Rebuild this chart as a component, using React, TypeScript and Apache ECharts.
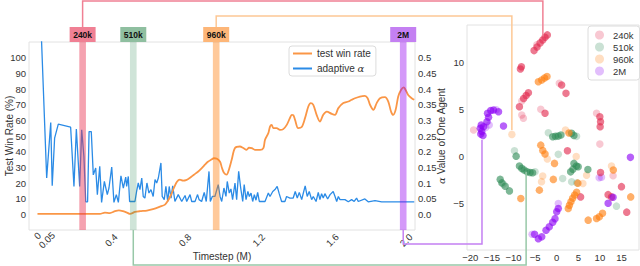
import React, { useEffect, useRef } from "react";
import * as echarts from "echarts";

// ---- left chart data: [timestep (M), value] ----
const winRatePoints: number[][] = [
  [0, 0.3], [0.339, 0.3], [0.366, 1.1], [0.393, 0.8], [0.421, 2.0], [0.442, 2.5], [0.464, 2.0], [0.486, 1.1],
  [0.502, 0.3], [0.529, 1.5], [0.556, 2.0], [0.594, 2.4], [0.627, 3.3], [0.665, 4.9], [0.692, 6.2], [0.708, 8.7],
  [0.725, 12.5], [0.741, 17], [0.757, 20.8], [0.773, 22.1], [0.79, 21.5], [0.806, 21.8], [0.828, 23.4], [0.849, 25.3],
  [0.871, 27.2], [0.893, 29.7], [0.909, 31.7], [0.925, 33.6], [0.942, 34.8], [0.958, 35.8], [0.974, 35.5], [0.991, 33.6],
  [1.001, 29.7], [1.012, 26.6], [1.027, 25.3], [1.039, 28.5], [1.054, 34.8], [1.072, 42.3], [1.099, 43.3], [1.117, 42.3],
  [1.135, 41.2], [1.148, 42.5], [1.163, 42.3], [1.18, 41.2], [1.208, 41.2], [1.226, 42.3], [1.235, 47.6], [1.253, 51.8],
  [1.262, 56], [1.271, 57.1], [1.28, 55], [1.298, 55], [1.316, 53.9], [1.334, 54.4], [1.353, 57.1], [1.37, 61.4],
  [1.38, 63.5], [1.389, 63.2], [1.398, 60.3], [1.415, 55], [1.434, 55.7], [1.452, 61.4], [1.47, 68.8], [1.483, 71],
  [1.497, 69.9], [1.515, 63.5], [1.533, 59.2], [1.551, 63.5], [1.57, 65.6], [1.597, 64.1], [1.615, 63.5], [1.633, 67.8],
  [1.66, 71], [1.687, 72], [1.705, 73.1], [1.723, 74.1], [1.75, 75.2], [1.777, 75.6], [1.792, 74.1], [1.805, 69.9],
  [1.823, 66.7], [1.841, 71], [1.859, 74.1], [1.886, 74.8], [1.904, 72], [1.919, 65.6], [1.931, 63.5], [1.944, 66.7],
  [1.958, 75.2], [1.973, 79.4], [1.988, 81.1], [1.998, 79.4], [2.012, 76.2], [2.031, 74.1], [2.045, 73.1],
];

const alphaPoints: number[][] = [
  [0, 0.9], [0.05, 0.116], [0.072, 0.293], [0.08, 0.091], [0.093, 0.243], [0.113, 0.288], [0.18, 0.278], [0.198, 0.089],
  [0.211, 0.272], [0.229, 0.089], [0.24, 0.27], [0.252, 0.185], [0.262, 0.04], [0.272, 0.04], [0.28, 0.264], [0.292, 0.264],
  [0.303, 0.126], [0.316, 0.148], [0.325, 0.063], [0.338, 0.153], [0.348, 0.038], [0.363, 0.105], [0.379, 0.063], [0.388, 0.084],
  [0.403, 0.151], [0.415, 0.038], [0.428, 0.063], [0.439, 0.038], [0.453, 0.123], [0.466, 0.084], [0.479, 0.119], [0.484, 0.089],
  [0.493, 0.121], [0.5, 0.041], [0.529, 0.041], [0.538, 0.073], [0.547, 0.1], [0.556, 0.079], [0.566, 0.116], [0.574, 0.057],
  [0.583, 0.052], [0.594, 0.1], [0.605, 0.068], [0.616, 0.079], [0.628, 0.057], [0.638, 0.111], [0.647, 0.1], [0.656, 0.116],
  [0.67, 0.164], [0.677, 0.057], [0.688, 0.047], [0.697, 0.089], [0.707, 0.041], [0.715, 0.089], [0.725, 0.052], [0.734, 0.091],
  [0.746, 0.041], [0.764, 0.063], [0.783, 0.041], [0.801, 0.06], [0.81, 0.041], [0.828, 0.063], [0.837, 0.041], [0.855, 0.041],
  [0.869, 0.063], [0.877, 0.047], [0.891, 0.041], [0.905, 0.07], [0.916, 0.041], [0.931, 0.137], [0.938, 0.041], [0.949, 0.057],
  [0.963, 0.057], [0.981, 0.095], [0.991, 0.057], [1.0, 0.041], [1.012, 0.084], [1.023, 0.057], [1.03, 0.105], [1.041, 0.068],
  [1.05, 0.081], [1.059, 0.047], [1.072, 0.1], [1.081, 0.047], [1.092, 0.137], [1.103, 0.084], [1.114, 0.041], [1.122, 0.095],
  [1.132, 0.047], [1.142, 0.073], [1.15, 0.057], [1.159, 0.068], [1.168, 0.041], [1.177, 0.063], [1.186, 0.045], [1.195, 0.07],
  [1.204, 0.041], [1.235, 0.041], [1.253, 0.068], [1.262, 0.057], [1.277, 0.073], [1.289, 0.079], [1.301, 0.089], [1.312, 0.066],
  [1.325, 0.041], [1.343, 0.041], [1.352, 0.057], [1.37, 0.052], [1.388, 0.052], [1.399, 0.073], [1.41, 0.052], [1.421, 0.07],
  [1.434, 0.047], [1.443, 0.068], [1.453, 0.091], [1.464, 0.057], [1.475, 0.073], [1.488, 0.047], [1.497, 0.057], [1.512, 0.041],
  [1.524, 0.07], [1.533, 0.047], [1.542, 0.066], [1.551, 0.052], [1.56, 0.066], [1.575, 0.049], [1.588, 0.063], [1.605, 0.073],
  [1.615, 0.057], [1.624, 0.041], [1.633, 0.057], [1.642, 0.047], [1.669, 0.047], [1.687, 0.04], [1.705, 0.047], [1.719, 0.041],
  [1.732, 0.052], [1.741, 0.041], [1.777, 0.049], [1.795, 0.04], [1.832, 0.044], [1.868, 0.04], [2.045, 0.04],
];

// tick values/labels on the time axis (the leading blank entry only absorbs ECharts' min-label overlap check)
const xTickValues = [-0.04, 0, 0.05, 0.4, 0.8, 1.2, 1.6, 2.0];
const xTickLabels = [" ", "0", "0.05", "0.4", "0.8", "1.2", "1.6", "2.0"];

// ---- checkpoints ----
const checkpointNames = ["240k", "510k", "960k", "2M"];
const checkpointT = [0.245, 0.52, 0.97, 1.985];
const checkpointAnchor: number[][] = [[-3.2, 12.9], [-7.08, -1.6], [-10.38, 2.85], [-17.3, 1.8]];

// ---- right chart: alpha embeddings per checkpoint ----
const pts240kSolid: number[][] = [
  [-5.24, 11.28], [-4.55, 11.67], [-3.85, 12.1], [-3.23, 12.41], [-2.7, 12.7], [-2.17, 12.95],
  [-8.17, 9.57], [-8.4, 9.33], [-6.55, 6.81], [-7.08, 6.51], [-7.66, 6.19], [-8.63, 5.32],
  [-2.7, 4.62], [1.15, 7.63], [2.15, 6.74], [9.99, 4.26], [10.15, 3.72], [10.06, 3.19],
  [2.49, 0.64], [10.15, -1.66], [15.0, -3.17], [5.54, -4.26], [11.9, -4.02], [12.69, -4.26], [16.22, -5.88],
];
const pts240kFaint: number[][] = [
  [-8.08, 5.93], [-8.08, 4.44], [-7.71, 4.09], [-3.69, 5.04], [-19.24, 2.84], [0.6, 7.81],
  [9.23, 4.62], [9.99, 1.35], [13.06, -2.02], [-4.6, 11.9],
];
const pts510kSolid: number[][] = [
  [-0.92, 2.13], [-0.28, 2.17], [0.37, 2.2], [0.99, 2.31], [3.46, 2.49], [3.99, 2.26],
  [-9.39, 0.07], [-8.63, -0.99], [-8.08, -1.23], [-7.54, -1.41], [-6.85, -1.6], [-6.16, -1.66], [-5.58, -1.7],
  [-13.08, -2.4], [-12.69, -2.77], [-11.93, -3.12], [-10.94, -3.62],
  [3.99, -0.7], [4.57, -0.99], [4.98, -1.06], [3.23, -1.6], [3.76, -1.31], [7.22, -1.34],
];
const pts510kFaint: number[][] = [
  [-1.94, 2.55], [4.61, 2.17], [-9.78, 0.64], [-5.01, -1.6], [0.37, 0.26], [1.38, -2.3],
  [3.46, -2.66], [4.68, -2.77], [13.84, -5.24], [-12.4, -2.9],
];
const pts960kSolid: number[][] = [
  [-4.25, 7.98], [-3.46, 8.16], [-2.81, 8.37], [-2.24, 8.53], [-3.69, 1.24], [-3.23, 0.66], [-2.7, 0.29],
  [-0.51, -0.7], [-4.01, -3.54], [-8.31, -4.43], [2.84, 2.52], [-0.78, -2.4],
  [4.91, -2.8], [4.61, -3.76], [4.15, -4.07], [3.69, -4.39], [3.3, -4.77], [2.95, -5.14], [2.68, -5.49],
  [7.29, -6.73], [9.23, -6.55], [9.88, -6.36], [10.61, -5.99], [13.11, -1.41], [17.14, -4.26],
];
const pts960kFaint: number[][] = [
  [-10.38, 2.38], [-2.17, -0.24], [-3.23, -2.05], [-3.51, -2.64], [2.03, 2.84], [4.52, 0.02],
  [6.92, -1.95], [6.07, -2.83], [12.69, -0.99],
];
const pts2MSolid: number[][] = [
  [-17.7, 3.02], [-17.35, 2.68], [-17.07, 2.26], [-17.58, 2.41], [-17.47, 3.37], [-16.94, 3.19], [-16.15, 3.72],
  [-15.78, 4.19], [-16.01, 4.62], [-15.27, 4.91], [-14.63, 4.97], [-13.47, 4.79], [-12.32, 3.27],
  [17.07, -0.06], [13.06, -4.29], [11.91, -4.93],
  [0.37, -5.49], [0.0, -5.83], [-0.39, -6.57], [-0.92, -6.95], [-1.71, -7.43], [-2.47, -7.8], [-3.46, -8.49],
  [-4.25, -8.7], [-5.12, -8.22],
];
const pts2MFaint: number[][] = [
  [-16.43, 3.11], [-15.62, 3.37], [9.83, -2.23], [10.38, -2.16], [0.37, -4.96], [-5.7, -8.22], [-14.0, 5.0],
];

const scatterXTicks = [-20, -15, -10, -5, 0, 5, 10, 15];
const scatterYTicks = [-5, 0, 5, 10];

// ---- styles ----
const FONT = "Liberation Sans";
const labelColor = "#333";
const faintColors = ["rgba(226,40,77,0.32)", "rgba(46,139,87,0.32)", "rgba(255,127,14,0.32)", "rgba(140,0,245,0.32)"];
const solidColors = ["rgba(226,40,77,0.78)", "rgba(46,139,87,0.78)", "rgba(255,127,14,0.78)", "rgba(140,0,245,0.78)"];
const bandColors = ["rgba(232,48,79,0.45)", "rgba(46,139,87,0.23)", "rgba(255,127,14,0.42)", "rgba(148,0,240,0.4)"];
const boxColors = ["#f08094", "#8fbfa0", "#fdb678", "#c480f2"];
const connectorColors = ["#f08094", "#98c8a8", "#fdc895", "#c480f2"];
const connectorLevel = [1, 265, 16, 244];
const connectorFromTop = [true, false, true, false];

const fmtNum = (v: number) => {
  const a = Math.abs(v);
  const s = String(parseFloat(a.toFixed(2)));
  return v < 0 ? "\u2212" + s : s;
};

export default function App() {
  const ref = useRef<HTMLDivElement>(null);

  useEffect(() => {
    const el = ref.current;
    if (!el) return;
    const chart = echarts.init(el, null, { renderer: "svg" });

    const axisFont = { fontFamily: FONT, fontSize: 9.5, color: labelColor };
    const solidSets = [pts240kSolid, pts510kSolid, pts960kSolid, pts2MSolid];
    const faintSets = [pts240kFaint, pts510kFaint, pts960kFaint, pts2MFaint];

    const scatterSeries: any[] = [];
    checkpointNames.forEach((name, i) => {
      scatterSeries.push({
        name, type: "scatter", xAxisIndex: 1, yAxisIndex: 2, symbolSize: 7.5,
        itemStyle: { color: faintColors[i] }, data: faintSets[i],
      });
    });
    checkpointNames.forEach((name, i) => {
      scatterSeries.push({
        name, type: "scatter", xAxisIndex: 1, yAxisIndex: 2, symbolSize: 7.5,
        itemStyle: { color: solidColors[i] }, data: solidSets[i],
      });
    });

    const option: any = {
      animation: false,
      backgroundColor: "#fff",
      textStyle: { fontFamily: FONT },
      grid: [
        { left: 29, top: 42, width: 386, height: 188, show: true, borderColor: "#e2e2e2", borderWidth: 1, backgroundColor: "transparent", outerBoundsMode: "none" },
        { left: 467, top: 25, width: 172, height: 225, show: true, borderColor: "#e2e2e2", borderWidth: 1, backgroundColor: "transparent", outerBoundsMode: "none" },
      ],
      legend: [
        {
          data: ["test win rate", "adaptive α"],
          orient: "vertical", left: 289, top: 46,
          backgroundColor: "#fff", borderColor: "#dcdcdc", borderWidth: 1, borderRadius: 3,
          padding: [2, 5, 2, 4], itemGap: 4, itemWidth: 19, itemHeight: 2, icon: "rect",
          selectedMode: false,
          formatter: (n: string) => (n === "adaptive α" ? "adaptive {i|α}" : n),
          textStyle: {
            fontFamily: FONT, fontSize: 10, color: labelColor, lineHeight: 11,
            rich: { i: { fontStyle: "italic", fontFamily: "DejaVu Serif", fontSize: 10, color: labelColor } },
          },
        },
        {
          data: checkpointNames.map((n, i) => ({ name: n, itemStyle: { color: faintColors[i] } })),
          orient: "vertical", left: 588, top: 26,
          backgroundColor: "#fff", borderColor: "#dcdcdc", borderWidth: 1, borderRadius: 3,
          padding: [4, 6, 4, 7], itemGap: 2, itemWidth: 9, itemHeight: 9, icon: "circle",
          selectedMode: false,
          textStyle: { fontFamily: FONT, fontSize: 9.5, color: labelColor, lineHeight: 10, padding: [0, 0, 0, 4] },
        },
      ],
      xAxis: [
        {
          gridIndex: 0, type: "value", min: -0.046, max: 2.049,
          axisLine: { show: false }, axisTick: { show: false }, splitLine: { show: false },
          axisLabel: {
            ...axisFont, customValues: xTickValues, rotate: 45, align: "center", verticalAlign: "middle", margin: 10,
            hideOverlap: false,
            rich: { s: { ...axisFont, padding: [0, 0, 6, 6] } },
            formatter: (v: number) => {
              const i = xTickValues.findIndex((t) => Math.abs(t - v) < 1e-6);
              if (i < 0) return "";
              const s = xTickLabels[i];
              return s.trim().length === 1 ? "{s|" + s + "}" : s;
            },
          },
          name: "Timestep (M)", nameLocation: "middle", nameGap: 21, nameMoveOverlap: false,
          nameTextStyle: { ...axisFont, fontSize: 10 },
        },
        {
          gridIndex: 1, type: "value", min: -20.77, max: 19.06,
          axisLine: { show: false }, axisTick: { show: false }, splitLine: { show: false },
          axisLabel: { ...axisFont, customValues: scatterXTicks, margin: 2, hideOverlap: false, formatter: (v: number) => fmtNum(v) },
        },
      ],
      yAxis: [
        {
          gridIndex: 0, type: "value", position: "left", min: -10, max: 110, interval: 10,
          axisLine: { show: false }, axisTick: { show: false }, splitLine: { show: false },
          axisLabel: { ...axisFont, margin: 3, formatter: (v: number) => (v < 0 || v > 100 ? "" : String(v)) },
          name: "Test Win Rate (%)", nameLocation: "middle", nameGap: 15, nameMoveOverlap: false,
          nameTextStyle: { ...axisFont, fontSize: 10 },
        },
        {
          gridIndex: 0, type: "value", position: "right", min: -0.05, max: 0.55, interval: 0.05,
          axisLine: { show: false }, axisTick: { show: false }, splitLine: { show: false },
          axisLabel: {
            ...axisFont, margin: 3,
            formatter: (v: number) => (v < -1e-6 || v > 0.5 + 1e-6 ? "" : Math.abs(v) < 1e-6 ? "0.0" : fmtNum(v)),
          },
          name: "{i|α} Value of One Agent", nameLocation: "middle", nameGap: 21, nameRotate: 90, nameMoveOverlap: false,
          nameTextStyle: {
            ...axisFont, fontSize: 10,
            rich: { i: { fontStyle: "italic", fontFamily: "DejaVu Serif", fontSize: 10, color: labelColor } },
          },
        },
        {
          gridIndex: 1, type: "value", min: -9.9, max: 14.0,
          axisLine: { show: false }, axisTick: { show: false }, splitLine: { show: false },
          axisLabel: { ...axisFont, customValues: scatterYTicks, margin: 3, formatter: (v: number) => fmtNum(v) },
        },
      ],
      series: [
        {
          name: "adaptive α", type: "line", xAxisIndex: 0, yAxisIndex: 1, data: alphaPoints,
          showSymbol: false, lineStyle: { color: "#2b8be6", width: 1.3 }, itemStyle: { color: "#2b8be6" }, z: 2,
        },
        {
          name: "test win rate", type: "line", xAxisIndex: 0, yAxisIndex: 0, data: winRatePoints,
          showSymbol: false, smooth: 0.3, lineStyle: { color: "#fa9646", width: 1.8 }, itemStyle: { color: "#fa9646" }, z: 3,
        },
        ...scatterSeries,
      ],
    };
    chart.setOption(option);

    // annotations placed through the axes' scales
    const plotTop = chart.convertToPixel({ yAxisIndex: 0 }, 110) as number;
    const plotBottom = chart.convertToPixel({ yAxisIndex: 0 }, -10) as number;
    const bandHalf = 0.018;
    const graphics: any[] = [];
    checkpointNames.forEach((name, i) => {
      const x0 = chart.convertToPixel({ xAxisIndex: 0 }, checkpointT[i] - bandHalf) as number;
      const x1 = chart.convertToPixel({ xAxisIndex: 0 }, checkpointT[i] + bandHalf) as number;
      const cx = (x0 + x1) / 2;
      const anchor = chart.convertToPixel({ gridIndex: 1 }, checkpointAnchor[i]) as number[];
      const boxTop = plotTop - 15;
      const startY = connectorFromTop[i] ? boxTop : plotBottom;
      graphics.push({
        type: "polyline", z: 40, silent: true,
        shape: { points: [[cx, startY], [cx, connectorLevel[i]], [anchor[0], connectorLevel[i]], [anchor[0], anchor[1]]] },
        style: { stroke: connectorColors[i], lineWidth: 1.5, fill: null },
      });
      graphics.push({
        type: "rect", z: 50, silent: true,
        shape: { x: x0, y: plotTop, width: x1 - x0, height: plotBottom - plotTop },
        style: { fill: bandColors[i] },
      });
      graphics.push({
        type: "rect", z: 50, silent: true,
        shape: { x: cx - 13, y: boxTop, width: 26, height: 15 },
        style: { fill: boxColors[i] },
      });
      graphics.push({
        type: "text", z: 51, silent: true, x: cx, y: boxTop + 7.5,
        style: {
          text: name, fill: "#111", fontFamily: FONT, fontSize: 8.5, fontWeight: "bold",
          align: "center", verticalAlign: "middle",
        },
      });
    });
    chart.setOption({ graphic: graphics });

    return () => chart.dispose();
  }, []);

  return <div ref={ref} style={{ position: "absolute", left: 0, top: 0, width: 640, height: 266 }} />;
}
